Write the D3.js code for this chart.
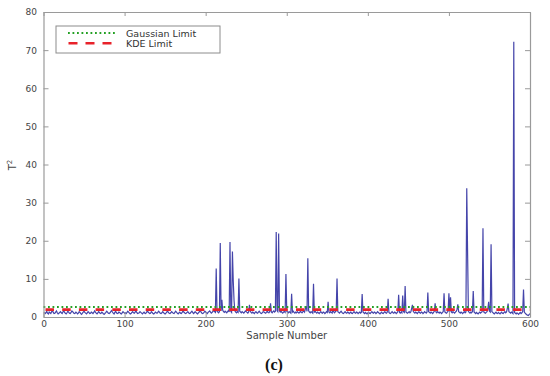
<!DOCTYPE html>
<html><head><meta charset="utf-8">
<script src="https://cdn.jsdelivr.net/npm/d3@7"></script>
<style>
html,body{margin:0;padding:0;background:#fff;}
svg{display:block;}
</style></head>
<body>
<svg id="chart" width="550" height="376"></svg>
<script>
// T² statistic per sample (samples 1..600)
const t2Values = [
1.2,0.9,1.1,1.5,1.0,0.8,1.3,1.1,0.9,1.4,1.8,1.2,0.9,1.0,1.3,1.6,1.1,0.8,1.0,1.2,
1.4,1.1,0.9,1.3,1.7,1.2,1.0,0.8,1.1,1.5,1.3,1.0,0.9,1.2,1.6,1.4,1.1,0.9,1.0,1.3,
1.1,0.8,1.0,1.4,1.2,0.9,0.7,1.0,1.3,1.5,1.2,1.0,0.8,1.1,1.4,1.2,0.9,1.0,1.3,1.1,
0.9,1.2,1.6,1.3,1.0,0.8,1.1,1.4,1.2,0.9,1.0,1.3,1.1,0.8,0.7,1.0,1.2,1.5,1.3,1.0,
0.9,1.1,1.4,1.7,1.3,1.0,0.8,1.2,1.5,1.1,0.9,1.0,1.3,1.2,0.9,0.8,1.1,1.4,1.2,1.0,
1.1,0.9,1.2,1.5,1.3,1.0,0.8,0.9,1.2,1.4,1.1,1.0,1.3,1.6,1.2,0.9,1.0,1.1,1.4,1.2,
1.0,0.8,1.1,1.3,1.0,0.9,1.2,1.5,1.3,1.1,0.9,1.0,1.4,1.2,0.9,0.8,1.0,1.3,1.1,1.0,
1.2,1.5,1.3,1.0,0.9,1.1,1.4,1.2,0.9,0.8,1.0,1.3,1.6,1.2,1.0,0.9,1.1,1.4,1.2,1.0,
0.9,1.2,1.5,1.3,1.0,0.8,1.1,1.3,1.0,0.9,1.2,1.6,1.3,1.1,0.9,1.0,1.2,1.4,1.1,0.9,
1.0,1.3,1.5,1.2,0.9,1.1,1.4,1.2,1.0,0.8,1.1,1.3,1.7,1.4,1.1,0.9,1.0,1.2,1.5,1.3,
1.1,0.9,1.2,1.4,1.6,1.3,1.0,1.2,1.5,1.8,1.4,1.2,12.7,1.5,1.3,1.1,1.4,19.4,1.6,4.5,
1.8,1.4,1.2,1.5,1.3,1.1,1.4,1.7,1.3,19.7,1.5,1.2,17.2,9.6,4.3,1.6,1.3,1.1,1.4,1.2,
10.1,1.5,1.3,1.1,1.4,1.2,1.0,1.3,1.6,1.4,1.2,1.0,1.3,3.2,1.5,1.2,1.0,1.3,1.1,0.9,
1.2,1.4,1.1,1.0,1.3,1.5,1.2,1.0,0.9,1.2,1.4,1.3,1.1,1.0,1.3,1.5,1.2,1.1,1.4,3.6,
1.3,1.1,1.4,1.6,1.3,1.5,22.3,1.7,1.4,21.9,1.6,1.3,1.5,1.2,1.0,1.3,1.4,1.2,11.3,1.5,
1.3,1.1,1.4,1.2,1.0,6.1,1.3,1.5,1.2,1.0,1.3,1.1,1.4,1.2,1.0,1.3,1.5,1.2,1.1,1.4,
1.6,1.3,2.2,2.8,1.5,15.4,1.6,1.3,1.1,1.4,1.2,1.0,8.7,1.3,1.5,1.2,1.0,1.3,1.1,0.9,
1.2,1.4,1.1,1.0,1.3,1.2,0.9,1.1,1.4,1.2,4.0,1.3,1.1,1.4,1.2,1.0,2.1,1.3,1.1,1.4,
1.6,10.1,1.4,1.2,1.0,1.3,1.5,1.2,1.0,0.9,1.2,1.4,1.1,1.0,1.3,1.2,0.9,1.1,1.3,1.0,
0.9,1.2,1.4,1.1,1.0,1.3,1.2,0.9,1.1,1.3,1.0,1.2,6.0,1.3,1.1,0.9,1.2,1.0,0.8,1.1,
1.3,1.0,0.9,1.2,1.4,1.1,1.0,1.3,1.2,0.9,1.1,1.4,1.2,1.0,0.8,1.1,1.3,1.0,0.9,1.2,
1.4,1.1,1.0,1.3,4.8,1.2,1.0,0.9,1.2,1.4,1.1,1.0,1.3,1.2,0.9,1.1,1.4,5.8,1.2,1.0,
1.3,1.1,5.6,1.4,1.2,8.1,1.3,1.1,1.0,1.2,1.4,1.1,1.3,2.2,3.2,1.5,1.2,1.0,1.3,1.1,
0.9,1.2,1.4,1.1,1.0,1.3,1.2,0.9,1.1,1.4,1.2,1.0,1.3,6.4,1.4,1.2,1.0,1.3,1.1,0.9,
1.2,1.5,3.6,1.3,1.1,1.4,1.2,1.0,1.3,1.1,0.9,1.2,1.4,6.2,1.3,1.1,1.0,1.3,1.5,6.2,
1.4,5.2,1.3,1.1,1.4,1.2,1.0,1.3,1.5,2.0,3.3,1.4,1.2,1.0,1.3,1.1,0.9,1.2,1.4,1.1,
1.3,33.8,17.4,1.5,1.2,1.0,1.3,1.1,1.4,6.8,1.3,1.1,0.9,1.2,1.0,0.8,1.1,1.3,1.0,1.2,
1.4,23.3,1.3,1.1,1.0,1.2,1.4,2.0,4.0,1.5,1.3,19.1,1.4,1.2,1.0,0.8,1.1,1.3,1.0,0.9,
1.2,1.0,0.8,1.1,1.3,1.0,0.9,1.2,1.4,1.1,1.3,2.2,3.5,1.4,1.2,1.0,1.3,1.1,0.9,72.2,
1.2,1.0,0.8,1.1,0.9,0.7,1.0,1.2,0.9,1.1,1.4,7.2,1.3,1.0,0.8,0.6,0.5,0.4,0.7,0.9
];
const gaussianLimit = 2.65;
const kdeLimit = 1.95;
const xTicks = [0,100,200,300,400,500,600];
const yTicks = [0,10,20,30,40,50,60,70,80];
const legendLabels = ["Gaussian Limit","KDE Limit"];
const xLabel = "Sample Number";
const panelLabel = "(c)";

const svg = d3.select("#chart");
const L = 43.5, R = 530, T = 12, B = 317;
const x = d3.scaleLinear().domain([0,600]).range([L,R]);
const y = d3.scaleLinear().domain([0,80]).range([B,T]);
const font = "DejaVu Sans, sans-serif";
const axisCol = "#9a9a9a", textCol = "#444";

const plotG = svg.append("g");
plotG.append("defs").append("clipPath").attr("id","clip")
  .append("rect").attr("x",L).attr("y",T).attr("width",R-L).attr("height",B-T);

// data line
const line = d3.line().x((d,i)=>x(i+1)).y(d=>y(d));
plotG.append("path").datum(t2Values)
  .attr("clip-path","url(#clip)")
  .attr("d",line).attr("fill","none")
  .attr("stroke","#4545aa").attr("stroke-width",1.2).attr("stroke-linejoin","miter");

// limits
plotG.append("line").attr("x1",x(0)).attr("x2",x(600))
  .attr("y1",y(gaussianLimit)).attr("y2",y(gaussianLimit))
  .attr("stroke","#23a023").attr("stroke-width",2).attr("stroke-dasharray","1.8,2.7");
plotG.append("line").attr("x1",x(0)+2).attr("x2",x(600))
  .attr("y1",y(kdeLimit)).attr("y2",y(kdeLimit))
  .attr("stroke","#e8222a").attr("stroke-width",2.8).attr("stroke-dasharray","8.5,8.2");

// axes
function styleAxis(g){
  g.select(".domain").attr("stroke",axisCol).attr("stroke-width",1.2);
  g.selectAll(".tick line").attr("stroke",axisCol);
  g.selectAll(".tick text").attr("fill",textCol).style("font-family",font).style("font-size","9px");
}
svg.append("g").attr("transform",`translate(0,${B})`)
  .call(d3.axisBottom(x).tickValues(xTicks).tickSize(-5).tickPadding(4).tickSizeOuter(0))
  .call(styleAxis);
svg.append("g").attr("transform",`translate(0,${T})`)
  .call(d3.axisTop(x).tickValues(xTicks).tickSize(-4).tickFormat("").tickSizeOuter(0))
  .call(styleAxis);
svg.append("g").attr("transform",`translate(${L},0)`)
  .call(d3.axisLeft(y).tickValues(yTicks).tickSize(-5).tickPadding(6.5).tickSizeOuter(0))
  .call(styleAxis);
svg.append("g").attr("transform",`translate(${R},0)`)
  .call(d3.axisRight(y).tickValues(yTicks).tickSize(-5).tickFormat("").tickSizeOuter(0))
  .call(styleAxis);

// labels
svg.append("text").attr("x",(L+R)/2).attr("y",338.5).attr("text-anchor","middle")
  .attr("fill",textCol).style("font-family",font).style("font-size","10px").text(xLabel);
const yl = svg.append("text").attr("transform","translate(16,165) rotate(-90)")
  .attr("text-anchor","middle").attr("fill",textCol)
  .style("font-family",font).style("font-size","10px");
yl.append("tspan").text("T");
yl.append("tspan").attr("dy","-4").style("font-size","7px").text("2");
svg.append("text").attr("x",274).attr("y",370).attr("text-anchor","middle")
  .attr("fill","#111").style("font-family","Liberation Serif, serif").style("font-size","16px")
  .style("font-weight","bold").text(panelLabel);

// legend
const lg = svg.append("g");
lg.append("rect").attr("x",56).attr("y",26).attr("width",164).attr("height",27)
  .attr("fill","#fff").attr("stroke","#8c8c8c").attr("stroke-width",1);
lg.append("line").attr("x1",68).attr("x2",117).attr("y1",33).attr("y2",33)
  .attr("stroke","#23a023").attr("stroke-width",2).attr("stroke-dasharray","1.8,2.7");
lg.append("line").attr("x1",68.5).attr("x2",117).attr("y1",43.3).attr("y2",43.3)
  .attr("stroke","#e8222a").attr("stroke-width",2.6).attr("stroke-dasharray","9,8");
lg.selectAll("text.lt").data(legendLabels).enter().append("text")
  .attr("x",126).attr("y",(d,i)=>36.6+i*10.2)
  .attr("fill","#333").style("font-family",font).style("font-size","9.5px").text(d=>d);
</script>
</body></html>
